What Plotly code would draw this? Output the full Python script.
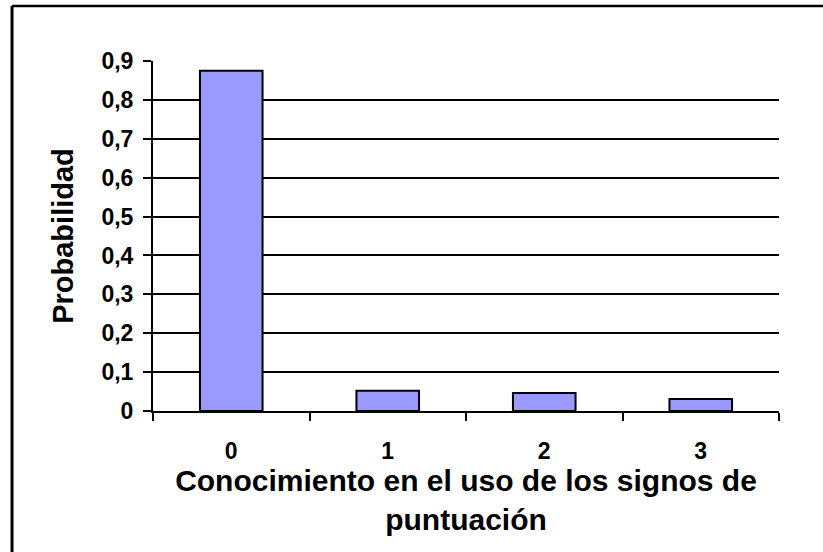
import plotly.graph_objects as go

categorias = ["0", "1", "2", "3"]
probabilidad = [0.875, 0.052, 0.046, 0.031]
y_ticks = [0, 0.1, 0.2, 0.3, 0.4, 0.5, 0.6, 0.7, 0.8, 0.9]
y_ticktext = ["0", "0,1", "0,2", "0,3", "0,4", "0,5", "0,6", "0,7", "0,8", "0,9"]

font = "Liberation Sans, Arial, sans-serif"

fig = go.Figure()
fig.add_trace(go.Bar(x=categorias, y=probabilidad,
                     marker=dict(color="#9999FF", line=dict(color="black", width=2))))

fig.update_xaxes(type="category", tickson="boundaries", ticks="outside", ticklen=8,
                 tickwidth=2, tickcolor="black", showline=True, linecolor="black",
                 linewidth=2, showgrid=False, ticklabelstandoff=18,
                 tickfont=dict(family=font, size=23, color="black", weight="bold"),
                 title=dict(text="Conocimiento en el uso de los signos de<br>puntuación",
                            font=dict(family=font, size=30, color="black", weight="bold"),
                            standoff=3),
                 automargin=False)
fig.update_yaxes(range=[0, 0.9], tickvals=y_ticks, ticktext=y_ticktext,
                 ticks="outside", ticklen=8, tickwidth=2, tickcolor="black",
                 showline=True, linecolor="black", linewidth=2,
                 showgrid=True, gridcolor="black", gridwidth=2, zeroline=False,
                 ticklabelstandoff=5,
                 tickfont=dict(family=font, size=23, color="black", weight="bold"),
                 title=dict(text="Probabilidad",
                            font=dict(family=font, size=29, color="black", weight="bold"),
                            standoff=19),
                 automargin=False)

# marco exterior del gráfico (solo se ven los bordes izquierdo y superior)
fig.add_shape(type="line", xref="paper", yref="paper", x0=-0.2252, x1=-0.2252,
              y0=-0.6, y1=1.157, line=dict(color="black", width=3))
fig.add_shape(type="line", xref="paper", yref="paper", x0=-0.2252, x1=1.2,
              y0=1.157, y1=1.157, line=dict(color="black", width=2.5))

fig.update_layout(width=823, height=552, bargap=0.6, showlegend=False,
                  plot_bgcolor="white", paper_bgcolor="white",
                  margin=dict(l=153, r=44, t=61, b=141))
# quitar el margen por defecto del body para que el gráfico empiece en (0, 0)
fig.write_html("out.html", config={"displayModeBar": False},
               post_script="document.body.style.margin='0';document.body.style.overflow='hidden';")
